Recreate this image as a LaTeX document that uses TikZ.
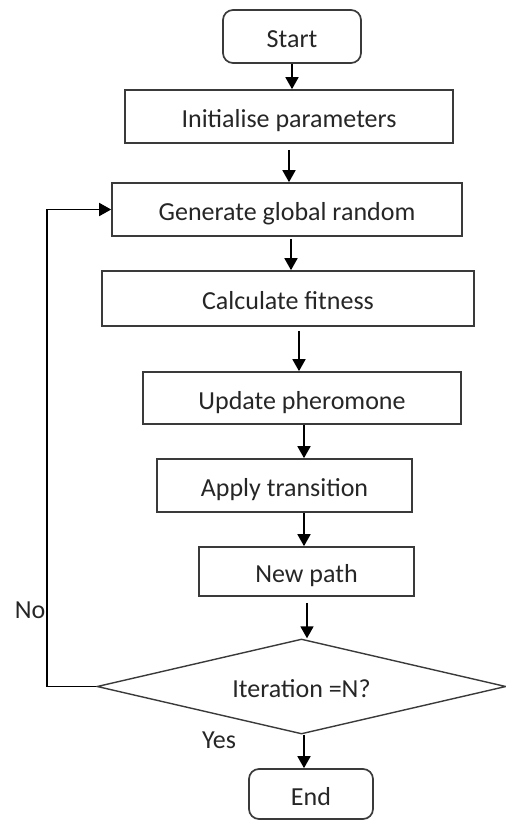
\documentclass[tikz,border=0pt]{standalone}
\usepackage{fontspec}
\setmainfont{Carlito}
\usetikzlibrary{arrows.meta,shapes.geometric}
\definecolor{edge}{HTML}{3A3A3A}
\definecolor{ink}{HTML}{262626}
\begin{document}
\begin{tikzpicture}[x=1pt,y=-1pt,
  every node/.style={font=\fontsize{26}{30}\selectfont, text=ink},
  procbox/.style={draw=edge, line width=1.7pt, rectangle, inner sep=0pt,
    text height=22pt, text depth=0pt},
  termbox/.style={procbox, rounded corners=10pt},
  decbox/.style={draw=edge, line width=1.4pt, diamond, inner sep=0pt, aspect=4.3,
    minimum width=409pt, minimum height=95pt, text height=22pt, text depth=0pt},
  arr/.style={draw=black, line width=1.8pt, -{Triangle[length=12pt,width=13pt]}},
  lbl/.style={anchor=base, inner sep=0pt}
]
\useasboundingbox (0,0) rectangle (506,820);

\node[termbox, minimum width=138pt, minimum height=53pt] (start) at (292,36.5) {Start};
\node[procbox, minimum width=328pt, minimum height=53pt] (init) at (289,116.5) {Initialise parameters};
\node[procbox, minimum width=350pt, minimum height=53pt] (gen) at (287,209.5) {Generate global random};
\node[procbox, minimum width=372pt, minimum height=55pt] (calc) at (288,298.5) {Calculate fitness};
\node[procbox, minimum width=318pt, minimum height=52pt] (upd) at (302,398) {Update pheromone};
\node[procbox, minimum width=255pt, minimum height=53pt] (app) at (284.5,485.5) {Apply transition};
\node[procbox, minimum width=215pt, minimum height=49pt] (newp) at (306.5,571.5) {New path};
\node[decbox] (dec) at (301.5,686.5) {Iteration =N?};
\node[termbox, minimum width=124pt, minimum height=50pt] (end) at (311,794) {End};

\node[lbl] (no) at (30,618) {No};
\node[lbl] (yes) at (219,748) {Yes};

\coordinate (lp) at (47,686.5);

\draw[arr] (start.south) -- (start.south |- init.north);
\draw[arr, shorten <=6pt] (init.south) -- (init.south |- gen.north);
\draw[arr, shorten <=2pt] ([xshift=4pt]gen.south) -- ([xshift=4pt]gen.south |- calc.north);
\draw[arr, shorten <=4pt] ([xshift=11pt]calc.south) -- ([xshift=11pt]calc.south |- upd.north);
\draw[arr] ([xshift=2pt]upd.south) -- ([xshift=2pt]upd.south |- app.north);
\draw[arr] ([xshift=19.5pt]app.south) -- ([xshift=19.5pt]app.south |- newp.north);
\draw[arr, shorten <=6pt] ([xshift=0.5pt]newp.south) -- ([xshift=0.5pt]newp.south |- dec.north);
\draw[arr] ([xshift=2.5pt]dec.south) -- ([xshift=2.5pt]dec.south |- end.north);
\draw[arr] (dec.west) -- (lp) |- (gen.west);
\end{tikzpicture}
\end{document}
